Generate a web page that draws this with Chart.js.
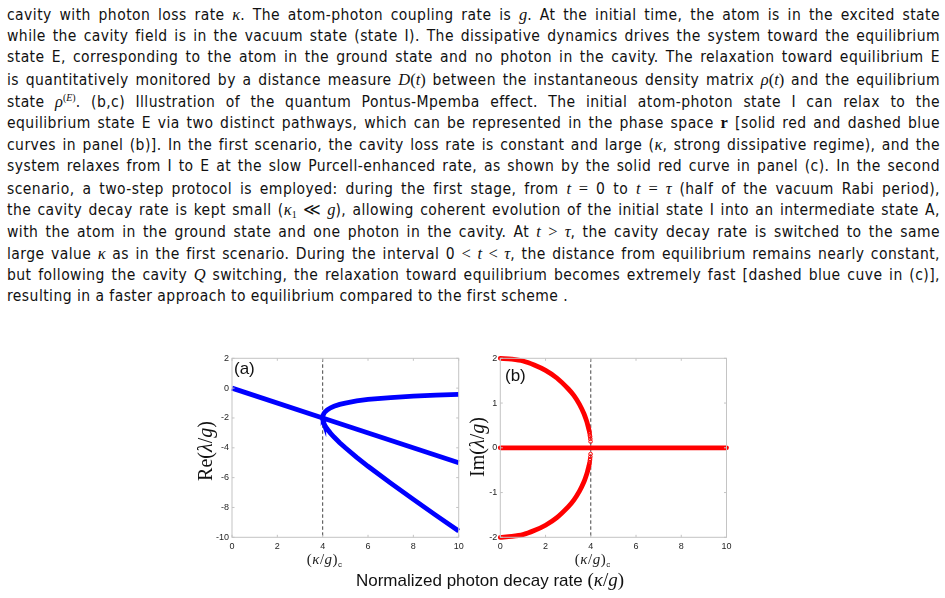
<!DOCTYPE html>
<html>
<head>
<meta charset="utf-8">
<script src="https://cdn.jsdelivr.net/npm/chart.js@4.4.1/dist/chart.umd.min.js"></script>
<style>
  body { margin: 0; background: #fff; width: 945px; height: 598px; overflow: hidden; position: relative; }
  #text { position: absolute; left: 7px; top: 4px; width: 933px;
          font-family: "DejaVu Sans Condensed", "DejaVu Sans", sans-serif; font-stretch: condensed;
          font-size: 15.5px; letter-spacing: 0.45px; line-height: 21.7px; color: #111; }
  #text div { text-align: justify; text-align-last: justify; height: 21.7px; }
  #text div.last { text-align-last: left; }
  .m { font-family: "Liberation Serif", serif; font-style: italic; font-size: 16.5px; letter-spacing: 0; }
  .n { font-family: "Liberation Serif", serif; font-size: 16.5px; letter-spacing: 0; }
  .r { font-family: "Liberation Serif", serif; font-weight: bold; font-size: 16.5px; }
  .sup { font-family: "Liberation Serif", serif; font-size: 10px; line-height: 0; vertical-align: 6px; letter-spacing: 0; }
  .sub { font-family: "Liberation Serif", serif; font-size: 10px; line-height: 0; vertical-align: -3px; letter-spacing: 0; }
  canvas { position: absolute; }
  .lbl { position: absolute; white-space: nowrap; }
  .ser { font-family: "Liberation Serif", serif; }
  .ser i { font-style: italic; }
  .ytitle { font-family: "Liberation Serif", serif; font-size: 20px; color: #111;
            transform: translate(-50%, -50%) rotate(-90deg); }
  .panel { font-family: "Liberation Sans", Arial, sans-serif; font-size: 17px; color: #111; }
</style>
</head>
<body>
<div id="text">
<div>cavity with photon loss rate <span class="m">κ</span>. The atom-photon coupling rate is <span class="m">g</span>. At the initial time, the atom is in the excited state</div>
<div>while the cavity field is in the vacuum state (state I). The dissipative dynamics drives the system toward the equilibrium</div>
<div>state E, corresponding to the atom in the ground state and no photon in the cavity. The relaxation toward equilibrium E</div>
<div>is quantitatively monitored by a distance measure <span class="m">D</span><span class="n">(</span><span class="m">t</span><span class="n">)</span> between the instantaneous density matrix <span class="m">ρ</span><span class="n">(</span><span class="m">t</span><span class="n">)</span> and the equilibrium</div>
<div>state <span class="m">ρ</span><span class="sup">(<i>E</i>)</span>. (b,c) Illustration of the quantum Pontus-Mpemba effect. The initial atom-photon state I can relax to the</div>
<div>equilibrium state E via two distinct pathways, which can be represented in the phase space <span class="r">r</span> [solid red and dashed blue</div>
<div>curves in panel (b)]. In the first scenario, the cavity loss rate is constant and large (<span class="m">κ</span>, strong dissipative regime), and the</div>
<div>system relaxes from I to E at the slow Purcell-enhanced rate, as shown by the solid red curve in panel (c). In the second</div>
<div>scenario, a two-step protocol is employed: during the first stage, from <span class="m">t</span> <span class="n">=</span> 0 to <span class="m">t</span> <span class="n">=</span> <span class="m">τ</span> (half of the vacuum Rabi period),</div>
<div>the cavity decay rate is kept small (<span class="m">κ</span><span class="sub">1</span> <span class="n">≪</span> <span class="m">g</span>), allowing coherent evolution of the initial state I into an intermediate state A,</div>
<div>with the atom in the ground state and one photon in the cavity. At <span class="m">t</span> <span class="n">&gt;</span> <span class="m">τ</span>, the cavity decay rate is switched to the same</div>
<div>large value <span class="m">κ</span> as in the first scenario. During the interval 0 <span class="n">&lt;</span> <span class="m">t</span> <span class="n">&lt;</span> <span class="m">τ</span>, the distance from equilibrium remains nearly constant,</div>
<div>but following the cavity <span class="m">Q</span> switching, the relaxation toward equilibrium becomes extremely fast [dashed blue cuve in (c)],</div>
<div class="last">resulting in a faster approach to equilibrium compared to the first scheme .</div>
</div>

<canvas id="chartA" width="290" height="235" style="left:180px; top:345px; width:290px; height:235px"></canvas>
<canvas id="chartB" width="290" height="235" style="left:460px; top:345px; width:290px; height:235px"></canvas>

<div class="lbl ytitle" style="left:205px; top:451px">Re(<i>λ</i>/<i>g</i>)</div>
<div class="lbl ytitle" style="left:477px; top:447px">Im(<i>λ</i>/<i>g</i>)</div>
<div class="lbl panel" style="left:234px; top:359px">(a)</div>
<div class="lbl panel" style="left:505px; top:366px">(b)</div>
<div class="lbl" style="left:490px; top:580px; transform: translate(-50%, -50%); font-family:'Liberation Sans',Arial,sans-serif; font-size:17px; color:#111">Normalized photon decay rate <span class="ser" style="font-size:19px">(<i>κ</i>/<i>g</i>)</span></div>

<script>
// panel (a): real part of the eigenvalues
const kappaMid = [0, 4, 10];
const reMid = [0, -2, -5];
const kappaBranch = [4, 4.005, 4.02, 4.05, 4.1, 4.2, 4.35, 4.5, 4.75, 5, 5.5, 6, 7, 8, 9, 10];
const reUpper = [-2, -1.90, -1.81, -1.71, -1.60, -1.46, -1.32, -1.22, -1.09, -1.00, -0.86, -0.76, -0.63, -0.54, -0.47, -0.42];
const reLower = [-2, -2.10, -2.21, -2.34, -2.50, -2.74, -3.03, -3.28, -3.66, -4.00, -4.64, -5.24, -6.37, -7.46, -8.53, -9.58];

// panel (b): imaginary part
const kappaArc = [0, 0.5, 1, 1.5, 2, 2.5, 3, 3.25, 3.5, 3.7, 3.8, 3.85, 3.9, 3.92];
const imUpper = [2, 1.98, 1.94, 1.85, 1.73, 1.56, 1.32, 1.17, 0.97, 0.76, 0.62, 0.54, 0.44, 0.40];
const imLower = [-2, -1.98, -1.94, -1.85, -1.73, -1.56, -1.32, -1.17, -0.97, -0.76, -0.62, -0.54, -0.44, -0.40];
const kappaDots = [3.93, 3.94, 3.95, 3.96, 3.97, 3.98, 3.99];
const imDotsUpper = [0.37, 0.35, 0.32, 0.28, 0.25, 0.20, 0.14];
const imDotsLower = [-0.37, -0.35, -0.32, -0.28, -0.25, -0.20, -0.14];
const kappaZero = [0, 10];
const imZero = [0, 0];

const kappaC = 4;
const xTicks = [0, 2, 4, 6, 8, 10];

function pts(xs, ys) {
    return xs.map((x, i) => ({x: x, y: ys[i]}));
}

const BLUE = 'rgb(0, 0, 255)';
const RED = 'rgb(255, 0, 0)';

// matlab style box, inward ticks, dashed critical line and (k/g)c label
const boxPlugin = {
    id: 'box',
    beforeDatasetsDraw(chart) {
        const ctx = chart.ctx, a = chart.chartArea;
        const xc = chart.scales.x.getPixelForValue(kappaC);
        ctx.save();
        ctx.strokeStyle = '#444';
        ctx.lineWidth = 1;
        ctx.setLineDash([3.5, 2.5]);
        ctx.beginPath();
        ctx.moveTo(xc, a.top);
        ctx.lineTo(xc, a.bottom);
        ctx.stroke();
        ctx.restore();
    },
    afterDraw(chart) {
        const ctx = chart.ctx, a = chart.chartArea;
        const sx = chart.scales.x, sy = chart.scales.y;
        ctx.save();
        ctx.strokeStyle = '#c4c4c4';
        ctx.lineWidth = 1;
        ctx.strokeRect(a.left, a.top, a.right - a.left, a.bottom - a.top);
        ctx.beginPath();
        sx.ticks.forEach(t => {
            const p = sx.getPixelForValue(t.value);
            ctx.moveTo(p, a.bottom); ctx.lineTo(p, a.bottom - 2.5);
            ctx.moveTo(p, a.top); ctx.lineTo(p, a.top + 2.5);
        });
        sy.ticks.forEach(t => {
            const p = sy.getPixelForValue(t.value);
            ctx.moveTo(a.left, p); ctx.lineTo(a.left + 2.5, p);
            ctx.moveTo(a.right, p); ctx.lineTo(a.right - 2.5, p);
        });
        ctx.stroke();

        // (k/g)c under the critical value
        const parts = [
            ['(', '15px "Liberation Serif"', 0],
            ['κ', 'italic 15px "Liberation Serif"', 0],
            ['/', '15px "Liberation Serif"', 0],
            ['g', 'italic 15px "Liberation Serif"', 0],
            [')', '15px "Liberation Serif"', 0],
            ['c', '8px "Liberation Sans"', 3]
        ];
        let w = 0;
        parts.forEach(p => { ctx.font = p[1]; w += ctx.measureText(p[0]).width + 0.5; });
        let x = sx.getPixelForValue(kappaC) - w / 2 + 2;
        const y = a.bottom + 27;
        ctx.fillStyle = '#222';
        ctx.textBaseline = 'alphabetic';
        parts.forEach(p => {
            ctx.font = p[1];
            ctx.fillText(p[0], x, y + p[2]);
            x += ctx.measureText(p[0]).width + 0.5;
        });
        ctx.restore();
    }
};

function makeOptions(yMin, yMax, yStep, yWidth, padRight) {
    return {
        responsive: false,
        animation: false,
        layout: { padding: { left: 0, top: 13.3, right: padRight, bottom: 0 } },
        plugins: { legend: { display: false }, tooltip: { enabled: false } },
        scales: {
            x: {
                type: 'linear', min: 0, max: 10,
                afterFit: s => { s.height = 42.7; },
                afterBuildTicks: s => { s.ticks = xTicks.map(v => ({value: v})); },
                grid: { display: false, drawTicks: false },
                border: { display: false },
                ticks: { padding: 4, color: '#262626', font: { family: 'Liberation Sans', size: 9 } }
            },
            y: {
                type: 'linear', min: yMin, max: yMax,
                afterFit: s => { s.width = yWidth; },
                grid: { display: false, drawTicks: false },
                border: { display: false },
                ticks: { stepSize: yStep, padding: 3, color: '#262626', font: { family: 'Liberation Sans', size: 9 } }
            }
        }
    };
}

const lineStyle = { showLine: true, pointRadius: 0, borderWidth: 4.8, fill: false, clip: false, tension: 0 };

new Chart(document.getElementById('chartA'), {
    type: 'scatter',
    data: {
        datasets: [
            Object.assign({ data: pts(kappaMid, reMid), borderColor: BLUE }, lineStyle),
            Object.assign({
                data: pts(kappaBranch.slice().reverse(), reUpper.slice().reverse()).concat(pts(kappaBranch, reLower)),
                borderColor: BLUE
            }, lineStyle)
        ]
    },
    options: makeOptions(-10, 2, 2, 52, 11.3),
    plugins: [boxPlugin]
});

const redLine = Object.assign({}, lineStyle, { borderColor: RED, borderCapStyle: 'round', tension: 0.3 });
const redDots = { showLine: false, pointRadius: 1.8, pointBorderWidth: 1, pointBorderColor: RED,
                  pointBackgroundColor: 'rgba(255,255,255,0)', clip: false };

new Chart(document.getElementById('chartB'), {
    type: 'scatter',
    data: {
        datasets: [
            Object.assign({ data: pts(kappaZero, imZero) }, redLine),
            Object.assign({ data: pts(kappaArc, imUpper) }, redLine),
            Object.assign({ data: pts(kappaArc, imLower) }, redLine),
            Object.assign({ data: pts(kappaDots, imDotsUpper) }, redDots),
            Object.assign({ data: pts(kappaDots, imDotsLower) }, redDots)
        ]
    },
    options: makeOptions(-2, 2, 1, 40.3, 23.5),
    plugins: [boxPlugin]
});
</script>
</body>
</html>
